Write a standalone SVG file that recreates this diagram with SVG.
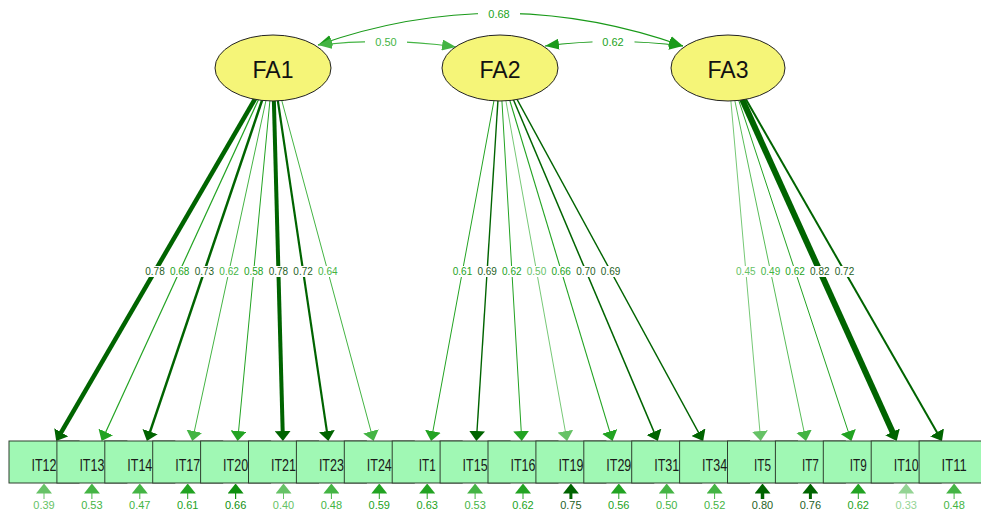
<svg xmlns="http://www.w3.org/2000/svg" width="981" height="510" viewBox="0 0 981 510">
<style>
.ld{fill:none}
.c1{stroke:#006400}.c2{stroke:#0f8f0f}.c3{stroke:#22a322}.c4{stroke:#44b444}.c5{stroke:#66c266}.c6{stroke:#94d494}
.t1{fill:#1f5f1f}.t2{fill:#0f8f0f}.t3{fill:#22a322}.t4{fill:#44b444}.t5{fill:#66c266}.t6{fill:#94d494}
.lb{font-family:"Liberation Sans",Arial,sans-serif;font-size:10px;text-anchor:middle}
.big{font-size:11px}
.lbg{fill:#fff}
.box rect{fill:#a0f8b4;stroke:#2f3f2f;stroke-width:1}
.box text{font-family:"Liberation Sans",Arial,sans-serif;font-size:16px;fill:#1a1a1a;text-anchor:middle}
.fac ellipse{fill:#f5f578;stroke:#222;stroke-width:1}
.fac text{font-family:"Liberation Sans",Arial,sans-serif;font-size:23px;fill:#111;text-anchor:middle}
</style>
<defs>
<marker id="a1" viewBox="0 0 10 16" markerWidth="10" markerHeight="16" refX="5" refY="8" orient="auto" markerUnits="userSpaceOnUse"><path d="M0,0L10,8L0,16z" fill="#006400"/></marker>
<marker id="a2" viewBox="0 0 10 16" markerWidth="10" markerHeight="16" refX="5" refY="8" orient="auto" markerUnits="userSpaceOnUse"><path d="M0,0L10,8L0,16z" fill="#0f8f0f"/></marker>
<marker id="a3" viewBox="0 0 10 16" markerWidth="10" markerHeight="16" refX="5" refY="8" orient="auto" markerUnits="userSpaceOnUse"><path d="M0,0L10,8L0,16z" fill="#22a322"/></marker>
<marker id="a4" viewBox="0 0 10 16" markerWidth="10" markerHeight="16" refX="5" refY="8" orient="auto" markerUnits="userSpaceOnUse"><path d="M0,0L10,8L0,16z" fill="#44b444"/></marker>
<marker id="a5" viewBox="0 0 10 16" markerWidth="10" markerHeight="16" refX="5" refY="8" orient="auto" markerUnits="userSpaceOnUse"><path d="M0,0L10,8L0,16z" fill="#66c266"/></marker>
<marker id="a6" viewBox="0 0 10 16" markerWidth="10" markerHeight="16" refX="5" refY="8" orient="auto" markerUnits="userSpaceOnUse"><path d="M0,0L10,8L0,16z" fill="#94d494"/></marker>
<marker id="b3" viewBox="0 0 14 11" markerWidth="14" markerHeight="11" refX="14" refY="5.5" orient="auto-start-reverse" markerUnits="userSpaceOnUse"><path d="M0,0L14,5.5L0,11z" fill="#1a9a1a"/></marker>
<marker id="b4" viewBox="0 0 14 11" markerWidth="14" markerHeight="11" refX="14" refY="5.5" orient="auto-start-reverse" markerUnits="userSpaceOnUse"><path d="M0,0L14,5.5L0,11z" fill="#44b444"/></marker>
</defs>

<g id="connectors" class="ld">
<path d="M318,45 Q500,-19 683,46" stroke="#1a9a1a" stroke-width="1.2" marker-start="url(#b3)" marker-end="url(#b3)"/>
<path d="M318,45 Q387,37 456,47" stroke="#44b444" stroke-width="1.2" marker-start="url(#b4)" marker-end="url(#b4)"/>
<path d="M545,46 Q613,37 683,46" stroke="#1a9a1a" stroke-width="1.2" marker-start="url(#b3)" marker-end="url(#b3)"/>
<path d="M273,68L58.7,436.7" class="c1" stroke-width="4.5" marker-end="url(#a1)"/>
<path d="M273,68L103.7,436.5" class="c3" stroke-width="1.2" marker-end="url(#a3)"/>
<path d="M273,68L148.5,436.3" class="c1" stroke-width="2.5" marker-end="url(#a1)"/>
<path d="M273,68L193.3,436.1" class="c4" stroke-width="1" marker-end="url(#a4)"/>
<path d="M273,68L238.1,436" class="c3" stroke-width="1" marker-end="url(#a3)"/>
<path d="M273,68L282.8,436" class="c1" stroke-width="4" marker-end="url(#a1)"/>
<path d="M273,68L327.6,436.1" class="c1" stroke-width="2.2" marker-end="url(#a1)"/>
<path d="M273,68L372.3,436.2" class="c4" stroke-width="1" marker-end="url(#a4)"/>
<path d="M500,68L432,436.1" class="c3" stroke-width="1" marker-end="url(#a3)"/>
<path d="M500,68L476.7,436" class="c1" stroke-width="1.4" marker-end="url(#a1)"/>
<path d="M500,68L521.5,436" class="c3" stroke-width="1" marker-end="url(#a3)"/>
<path d="M500,68L566.2,436.1" class="c5" stroke-width="0.9" marker-end="url(#a5)"/>
<path d="M500,68L611.1,436.2" class="c3" stroke-width="1.1" marker-end="url(#a3)"/>
<path d="M500,68L655.9,436.4" class="c1" stroke-width="1.5" marker-end="url(#a1)"/>
<path d="M500,68L700.8,436.6" class="c1" stroke-width="1.4" marker-end="url(#a1)"/>
<path d="M728,68L760.3,436" class="c5" stroke-width="0.9" marker-end="url(#a5)"/>
<path d="M728,68L805,436.1" class="c4" stroke-width="0.9" marker-end="url(#a4)"/>
<path d="M728,68L849.8,436.3" class="c3" stroke-width="1" marker-end="url(#a3)"/>
<path d="M728,68L894.6,436.4" class="c1" stroke-width="6" marker-end="url(#a1)"/>
<path d="M728,68L939.5,436.7" class="c1" stroke-width="2" marker-end="url(#a1)"/>
<path d="M44,499V488.5" class="c5" stroke-width="1" marker-end="url(#a5)"/>
<path d="M91.9,499V488.5" class="c4" stroke-width="1" marker-end="url(#a4)"/>
<path d="M139.8,499V488.5" class="c4" stroke-width="1" marker-end="url(#a4)"/>
<path d="M187.7,499V488.5" class="c3" stroke-width="1" marker-end="url(#a3)"/>
<path d="M235.6,499V488.5" class="c2" stroke-width="1.2" marker-end="url(#a2)"/>
<path d="M283.5,499V488.5" class="c5" stroke-width="1" marker-end="url(#a5)"/>
<path d="M331.4,499V488.5" class="c4" stroke-width="1" marker-end="url(#a4)"/>
<path d="M379.3,499V488.5" class="c3" stroke-width="1" marker-end="url(#a3)"/>
<path d="M427.2,499V488.5" class="c3" stroke-width="1" marker-end="url(#a3)"/>
<path d="M475.1,499V488.5" class="c4" stroke-width="1" marker-end="url(#a4)"/>
<path d="M523,499V488.5" class="c3" stroke-width="1" marker-end="url(#a3)"/>
<path d="M570.9,499V488.5" class="c1" stroke-width="3" marker-end="url(#a1)"/>
<path d="M618.8,499V488.5" class="c3" stroke-width="1" marker-end="url(#a3)"/>
<path d="M666.7,499V488.5" class="c4" stroke-width="1" marker-end="url(#a4)"/>
<path d="M714.6,499V488.5" class="c4" stroke-width="1" marker-end="url(#a4)"/>
<path d="M762.5,499V488.5" class="c1" stroke-width="3.5" marker-end="url(#a1)"/>
<path d="M810.4,499V488.5" class="c1" stroke-width="3" marker-end="url(#a1)"/>
<path d="M858.3,499V488.5" class="c3" stroke-width="1" marker-end="url(#a3)"/>
<path d="M906.2,499V488.5" class="c6" stroke-width="1" marker-end="url(#a6)"/>
<path d="M954.1,499V488.5" class="c4" stroke-width="1" marker-end="url(#a4)"/>
</g>

<g id="labels" class="lb">
<rect class="lbg" x="478" y="7" width="42" height="13"/>
<text x="499" y="18" class="t3 big">0.68</text>
<rect class="lbg" x="365" y="35" width="42" height="13"/>
<text x="386" y="45.5" class="t4 big">0.50</text>
<rect class="lbg" x="592.5" y="35" width="42" height="13"/>
<text x="613" y="45.5" class="t3 big">0.62</text>

<rect class="lbg" x="144.5" y="266" width="21" height="11"/><text x="155" y="275" class="t1">0.78</text>
<rect class="lbg" x="169.2" y="266" width="21" height="11"/><text x="179.7" y="275" class="t3">0.68</text>
<rect class="lbg" x="193.9" y="266" width="21" height="11"/><text x="204.4" y="275" class="t1">0.73</text>
<rect class="lbg" x="218.6" y="266" width="21" height="11"/><text x="229.1" y="275" class="t4">0.62</text>
<rect class="lbg" x="243.2" y="266" width="21" height="11"/><text x="253.7" y="275" class="t3">0.58</text>
<rect class="lbg" x="267.9" y="266" width="21" height="11"/><text x="278.4" y="275" class="t1">0.78</text>
<rect class="lbg" x="292.6" y="266" width="21" height="11"/><text x="303.1" y="275" class="t1">0.72</text>
<rect class="lbg" x="317.3" y="266" width="21" height="11"/><text x="327.8" y="275" class="t4">0.64</text>

<rect class="lbg" x="452" y="266" width="21" height="11"/><text x="462.5" y="275" class="t3">0.61</text>
<rect class="lbg" x="476.7" y="266" width="21" height="11"/><text x="487.2" y="275" class="t1">0.69</text>
<rect class="lbg" x="501.3" y="266" width="21" height="11"/><text x="511.8" y="275" class="t3">0.62</text>
<rect class="lbg" x="526" y="266" width="21" height="11"/><text x="536.5" y="275" class="t5">0.50</text>
<rect class="lbg" x="550.7" y="266" width="21" height="11"/><text x="561.2" y="275" class="t3">0.66</text>
<rect class="lbg" x="575.4" y="266" width="21" height="11"/><text x="585.9" y="275" class="t1">0.70</text>
<rect class="lbg" x="600.1" y="266" width="21" height="11"/><text x="610.6" y="275" class="t1">0.69</text>

<rect class="lbg" x="735.3" y="266" width="21" height="11"/><text x="745.8" y="275" class="t5">0.45</text>
<rect class="lbg" x="760" y="266" width="21" height="11"/><text x="770.5" y="275" class="t4">0.49</text>
<rect class="lbg" x="784.6" y="266" width="21" height="11"/><text x="795.1" y="275" class="t3">0.62</text>
<rect class="lbg" x="809.3" y="266" width="21" height="11"/><text x="819.8" y="275" class="t1">0.82</text>
<rect class="lbg" x="834" y="266" width="21" height="11"/><text x="844.5" y="275" class="t1">0.72</text>

<g class="big">
<text x="44" y="508.5" class="t5">0.39</text>
<text x="91.9" y="508.5" class="t4">0.53</text>
<text x="139.8" y="508.5" class="t4">0.47</text>
<text x="187.7" y="508.5" class="t3">0.61</text>
<text x="235.6" y="508.5" class="t2">0.66</text>
<text x="283.5" y="508.5" class="t5">0.40</text>
<text x="331.4" y="508.5" class="t4">0.48</text>
<text x="379.3" y="508.5" class="t3">0.59</text>
<text x="427.2" y="508.5" class="t3">0.63</text>
<text x="475.1" y="508.5" class="t4">0.53</text>
<text x="523" y="508.5" class="t3">0.62</text>
<text x="570.9" y="508.5" class="t1">0.75</text>
<text x="618.8" y="508.5" class="t3">0.56</text>
<text x="666.7" y="508.5" class="t4">0.50</text>
<text x="714.6" y="508.5" class="t4">0.52</text>
<text x="762.5" y="508.5" class="t1">0.80</text>
<text x="810.4" y="508.5" class="t1">0.76</text>
<text x="858.3" y="508.5" class="t3">0.62</text>
<text x="906.2" y="508.5" class="t6">0.33</text>
<text x="954.1" y="508.5" class="t4">0.48</text>
</g>
</g>

<g id="FA1" class="fac"><ellipse cx="273" cy="68" rx="58" ry="33"/><text x="273" y="78">FA1</text></g>
<g id="FA2" class="fac"><ellipse cx="500" cy="68" rx="58" ry="33"/><text x="500" y="78">FA2</text></g>
<g id="FA3" class="fac"><ellipse cx="728" cy="68" rx="57" ry="33"/><text x="728" y="78">FA3</text></g>

<g id="IT12" class="box"><rect x="9" y="441" width="70" height="42"/><text x="44" y="471" textLength="25" lengthAdjust="spacingAndGlyphs">IT12</text></g>
<g id="IT13" class="box"><rect x="56.9" y="441" width="70" height="42"/><text x="91.9" y="471" textLength="25" lengthAdjust="spacingAndGlyphs">IT13</text></g>
<g id="IT14" class="box"><rect x="104.8" y="441" width="70" height="42"/><text x="139.8" y="471" textLength="25" lengthAdjust="spacingAndGlyphs">IT14</text></g>
<g id="IT17" class="box"><rect x="152.7" y="441" width="70" height="42"/><text x="187.7" y="471" textLength="25" lengthAdjust="spacingAndGlyphs">IT17</text></g>
<g id="IT20" class="box"><rect x="200.6" y="441" width="70" height="42"/><text x="235.6" y="471" textLength="25" lengthAdjust="spacingAndGlyphs">IT20</text></g>
<g id="IT21" class="box"><rect x="248.5" y="441" width="70" height="42"/><text x="283.5" y="471" textLength="25" lengthAdjust="spacingAndGlyphs">IT21</text></g>
<g id="IT23" class="box"><rect x="296.4" y="441" width="70" height="42"/><text x="331.4" y="471" textLength="25" lengthAdjust="spacingAndGlyphs">IT23</text></g>
<g id="IT24" class="box"><rect x="344.3" y="441" width="70" height="42"/><text x="379.3" y="471" textLength="25" lengthAdjust="spacingAndGlyphs">IT24</text></g>
<g id="IT1" class="box"><rect x="392.2" y="441" width="70" height="42"/><text x="427.2" y="471" textLength="17" lengthAdjust="spacingAndGlyphs">IT1</text></g>
<g id="IT15" class="box"><rect x="440.1" y="441" width="70" height="42"/><text x="475.1" y="471" textLength="25" lengthAdjust="spacingAndGlyphs">IT15</text></g>
<g id="IT16" class="box"><rect x="488" y="441" width="70" height="42"/><text x="523" y="471" textLength="25" lengthAdjust="spacingAndGlyphs">IT16</text></g>
<g id="IT19" class="box"><rect x="535.9" y="441" width="70" height="42"/><text x="570.9" y="471" textLength="25" lengthAdjust="spacingAndGlyphs">IT19</text></g>
<g id="IT29" class="box"><rect x="583.8" y="441" width="70" height="42"/><text x="618.8" y="471" textLength="25" lengthAdjust="spacingAndGlyphs">IT29</text></g>
<g id="IT31" class="box"><rect x="631.7" y="441" width="70" height="42"/><text x="666.7" y="471" textLength="25" lengthAdjust="spacingAndGlyphs">IT31</text></g>
<g id="IT34" class="box"><rect x="679.6" y="441" width="70" height="42"/><text x="714.6" y="471" textLength="25" lengthAdjust="spacingAndGlyphs">IT34</text></g>
<g id="IT5" class="box"><rect x="727.5" y="441" width="70" height="42"/><text x="762.5" y="471" textLength="17" lengthAdjust="spacingAndGlyphs">IT5</text></g>
<g id="IT7" class="box"><rect x="775.4" y="441" width="70" height="42"/><text x="810.4" y="471" textLength="17" lengthAdjust="spacingAndGlyphs">IT7</text></g>
<g id="IT9" class="box"><rect x="823.3" y="441" width="70" height="42"/><text x="858.3" y="471" textLength="17" lengthAdjust="spacingAndGlyphs">IT9</text></g>
<g id="IT10" class="box"><rect x="871.2" y="441" width="70" height="42"/><text x="906.2" y="471" textLength="25" lengthAdjust="spacingAndGlyphs">IT10</text></g>
<g id="IT11" class="box"><rect x="919.1" y="441" width="70" height="42"/><text x="954.1" y="471" textLength="25" lengthAdjust="spacingAndGlyphs">IT11</text></g>
</svg>
